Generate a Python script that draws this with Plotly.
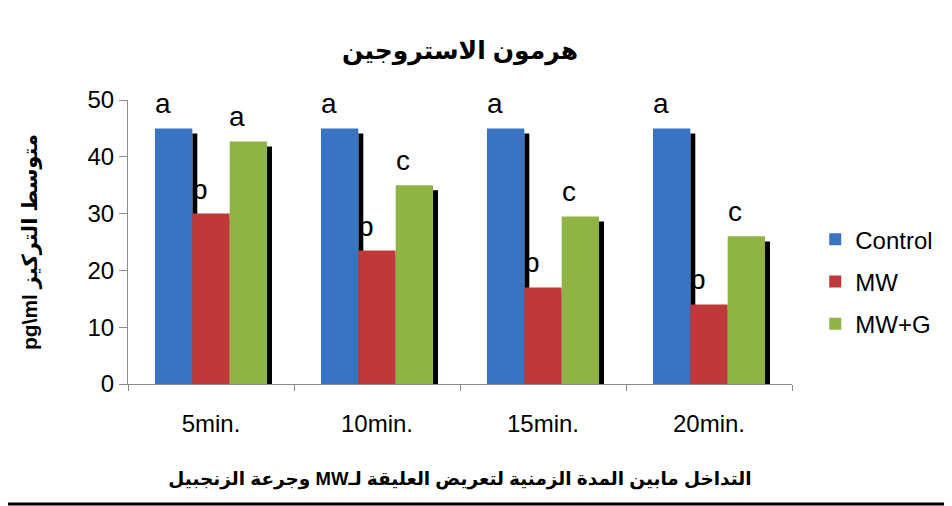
import plotly.graph_objects as go

# chart data
times = ["5min.", "10min.", "15min.", "20min."]
control = [45, 45, 45, 45]
mw = [30, 23.5, 17, 14]
mw_g = [42.7, 35, 29.5, 26]
letters_control = ["a", "a", "a", "a"]
letters_mw = ["b", "b", "b", "b"]
letters_mw_g = ["a", "c", "c", "c"]

series = [
    ("Control", control, letters_control, "#3874c2"),
    ("MW", mw, letters_mw, "#c0393a"),
    ("MW+G", mw_g, letters_mw_g, "#8fb445"),
]

FONT = "Arial, Liberation Sans, DejaVu Sans, sans-serif"
bar_w = 0.225
offsets = [-1.5 * bar_w, -0.5 * bar_w, 0.5 * bar_w]
PX_PER_CAT = 664 / 4

fig = go.Figure()

# black drop shadows on the right side of each bar (drawn first, sit behind)
for (name, vals, _, _), off in zip(series, offsets):
    fig.add_trace(go.Bar(
        x=times, y=[v - 0.9 for v in vals],
        offset=off + bar_w, width=0.03,
        marker=dict(color="black", line_width=0),
        showlegend=False, hoverinfo="skip",
    ))

for (name, vals, letters, color), off in zip(series, offsets):
    fig.add_trace(go.Bar(
        name=name, x=times, y=vals,
        offset=off, width=bar_w,
        marker=dict(color=color, line_width=0),
        legendgroup=name, hoverinfo="x+y+name",
    ))
    # significance letters above the bars
    for t, v, l in zip(times, vals, letters):
        fig.add_annotation(
            x=t, y=v, text=l, showarrow=False,
            xanchor="center", yanchor="bottom",
            xshift=(off + bar_w / 2) * PX_PER_CAT - 11, yshift=7,
            font=dict(size=28, color="black", family=FONT),
        )

fig.update_layout(
    barmode="overlay",
    width=952, height=506,
    margin=dict(l=120, r=168, t=92, b=130, autoexpand=False),
    paper_bgcolor="white", plot_bgcolor="white",
    font=dict(family=FONT, color="black"),
    title=dict(text="<b>هرمون الاستروجين</b>", x=0.5, xref="paper",
               y=1 - 42 / 506, yanchor="middle", font=dict(size=25)),
    legend=dict(x=1.035, xanchor="left", y=0.36, yanchor="middle",
                font=dict(size=24), traceorder="grouped", tracegroupgap=8),
    showlegend=True,
)

fig.update_yaxes(range=[0, 50], dtick=10, showgrid=False, zeroline=False,
                 showline=True, linecolor="#8a8a8a", linewidth=1,
                 ticks="outside", ticklen=8, tickcolor="#8a8a8a",
                 tickfont=dict(size=24),
                 title=dict(text="<b>pg\\ml متوسط التركيز</b>",
                            font=dict(size=21), standoff=44))
fig.update_xaxes(showgrid=False, showline=True, linecolor="#8a8a8a", linewidth=1,
                 ticks="outside", ticklen=6, tickcolor="#8a8a8a",
                 tickson="boundaries", ticklabelstandoff=18,
                 tickfont=dict(size=24),
                 title=dict(text="<b>\u202bالتداخل مابين المدة الزمنية لتعريض العليقة لـMW وجرعة الزنجبيل\u202c</b>",
                            font=dict(size=18.5), standoff=36))

# black rule along the bottom edge
fig.add_shape(type="line", xref="paper", yref="paper",
              x0=-120 / 664, x1=832 / 664, y0=-120 / 284, y1=-120 / 284,
              line=dict(color="black", width=3))

fig.write_html("out.html")
